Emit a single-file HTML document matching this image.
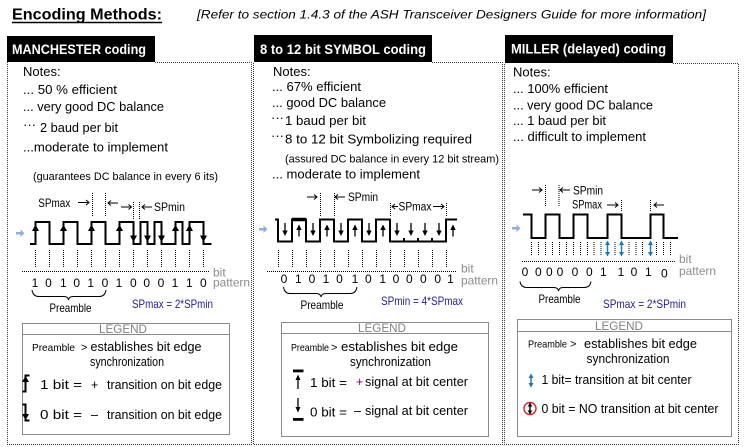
<!DOCTYPE html>
<html><head><meta charset="utf-8"><style>
html,body{margin:0;padding:0;background:#fff;}
svg{display:block;font-family:"Liberation Sans",Arial,sans-serif;}
</style></head><body>
<svg width="749" height="447" viewBox="0 0 749 447" xmlns="http://www.w3.org/2000/svg">
<rect width="749" height="447" fill="#fff"/>

<!-- Header -->
<text x="12" y="19.5" font-size="16" font-weight="bold" textLength="150" lengthAdjust="spacingAndGlyphs">Encoding Methods:</text>
<line x1="12" y1="22.5" x2="162" y2="22.5" stroke="#000" stroke-width="1.6"/>
<text x="197" y="18.5" font-size="11.5" font-style="italic" textLength="509" lengthAdjust="spacingAndGlyphs">[Refer to section  1.4.3  of the ASH Transceiver Designers Guide for more information]</text>

<!-- Title boxes -->
<rect x="7" y="36" width="148" height="26" fill="#000"/>
<text x="12" y="54" fill="#fff" font-size="13.5" font-weight="bold" textLength="134" lengthAdjust="spacingAndGlyphs">MANCHESTER coding</text>
<rect x="254" y="35" width="178" height="27" fill="#000"/>
<text x="260" y="54" fill="#fff" font-size="13.5" font-weight="bold" textLength="166" lengthAdjust="spacingAndGlyphs">8 to 12 bit SYMBOL coding</text>
<rect x="505" y="35" width="168" height="28" fill="#000"/>
<text x="511" y="53.5" fill="#fff" font-size="13.5" font-weight="bold" textLength="155" lengthAdjust="spacingAndGlyphs">MILLER (delayed) coding</text>

<!-- Dotted panel borders -->
<g fill="none" stroke="#333" stroke-width="1" stroke-dasharray="1 1">
<path d="M155 62.5H251.5V444.5H7.5V62"/>
<path d="M432 62.5H502.5V444.5H253.5V62"/>
<path d="M673 63.5H738.5V444.5H504.5V63"/>
</g>

<!-- Notes panel 1 -->
<g font-size="13" fill="#000">
<text x="23" y="76">Notes:</text>
<text x="23" y="94" textLength="94" lengthAdjust="spacingAndGlyphs">... 50 % efficient</text>
<text x="23" y="111" textLength="141" lengthAdjust="spacingAndGlyphs">... very good DC balance</text>
<text x="23" y="129">···</text>
<text x="40" y="132" textLength="78" lengthAdjust="spacingAndGlyphs">2 baud per bit</text>
<text x="23" y="151.5" textLength="145" lengthAdjust="spacingAndGlyphs">...moderate to implement</text>
<text x="33" y="180" font-size="11" textLength="185" lengthAdjust="spacingAndGlyphs">(guarantees DC balance in every 6 its)</text>
</g>

<!-- Notes panel 2 -->
<g font-size="13" fill="#000">
<text x="273" y="76">Notes:</text>
<text x="272" y="91" textLength="89" lengthAdjust="spacingAndGlyphs">... 67% efficient</text>
<text x="272" y="107" textLength="114" lengthAdjust="spacingAndGlyphs">... good DC balance</text>
<text x="271" y="122">···</text>
<text x="285" y="125" textLength="81" lengthAdjust="spacingAndGlyphs">1 baud per bit</text>
<text x="271" y="140">···</text>
<text x="285" y="143.5" textLength="187" lengthAdjust="spacingAndGlyphs">8 to 12 bit Symbolizing required</text>
<text x="285" y="162.5" font-size="11" textLength="214" lengthAdjust="spacingAndGlyphs">(assured DC balance in every 12 bit stream)</text>
<text x="272" y="178.5" textLength="148" lengthAdjust="spacingAndGlyphs">... moderate to implement</text>
</g>

<!-- Notes panel 3 -->
<g font-size="13" fill="#000">
<text x="513" y="76.5">Notes:</text>
<text x="513" y="93" textLength="95" lengthAdjust="spacingAndGlyphs">... 100% efficient</text>
<text x="513" y="109.5" textLength="140" lengthAdjust="spacingAndGlyphs">... very good DC balance</text>
<text x="513" y="125" textLength="93" lengthAdjust="spacingAndGlyphs">... 1 baud per bit</text>
<text x="513" y="141" textLength="133" lengthAdjust="spacingAndGlyphs">... difficult to implement</text>
</g>

<!-- Light blue input arrows -->
<g fill="#8fb0dc">
<rect x="16" y="232" width="5" height="2.5"/><polygon points="20.5,229.5 24.5,233.2 20.5,237"/>
<rect x="259" y="228" width="5" height="2.5"/><polygon points="263.5,225.5 267.5,229.2 263.5,233"/>
<rect x="512" y="227" width="5" height="2.5"/><polygon points="516.5,224.5 520.5,228.2 516.5,232"/>
</g>

<!-- ===== Panel 1 waveform ===== -->
<path d="M30 244H35.5V222H49.5V244H63.5V222H77.5V244H91.5V222H105.5V244H119.5V222H133.5V244H140.5V222H147.5V244H154.5V222H161.5V244H175.5V222H182.5V244H189.5V222H203.5V244H211.5" fill="none" stroke="#000" stroke-width="2"/>
<g fill="#000">
<polygon points="35.5,224.5 32,231 39,231"/>
<polygon points="63.5,224.5 60,231 67,231"/>
<polygon points="91.5,224.5 88,231 95,231"/>
<polygon points="119.5,224.5 116,231 123,231"/>
<polygon points="175.5,224.5 172,231 179,231"/>
<polygon points="189.5,224.5 186,231 193,231"/>
<polygon points="133.5,242 130,235.5 137,235.5"/>
<polygon points="147.5,242 144,235.5 151,235.5"/>
<polygon points="161.5,242 158,235.5 165,235.5"/>
<polygon points="203.5,242 200,235.5 207,235.5"/>
</g>
<g fill="none" stroke="#000" stroke-width="1" stroke-dasharray="1 1">
<path d="M35.5 250V267M49.5 250V267M63.5 250V267M77.5 250V267M91.5 250V267M105.5 250V267M119.5 250V267M133.5 250V267M147.5 250V267M161.5 250V267M175.5 250V267M189.5 250V267M203.5 250V267"/>
<path d="M22 271.5H209"/>
<path d="M92.5 193V217M105.5 193V217M133.5 202V219M139.5 202V219"/>
</g>
<g fill="none" stroke="#000" stroke-width="1">
<path d="M78 202.5H89M86 200L89 202.5L86 205"/>
<path d="M118 203H108M111 200.5L108 203L111 205.5"/>
<path d="M121 207H131.5M128.5 204.5L131.5 207L128.5 209.5"/>
<path d="M152 207H142M145 204.5L142 207L145 209.5"/>
</g>
<text x="38.3" y="207" font-size="11.5" textLength="32" lengthAdjust="spacingAndGlyphs">SPmax</text>
<text x="154" y="211" font-size="11.5" textLength="31" lengthAdjust="spacingAndGlyphs">SPmin</text>
<g font-size="12" text-anchor="middle">
<text x="35" y="287">1</text><text x="48.5" y="287">0</text><text x="63.3" y="287">1</text><text x="76.7" y="287">0</text><text x="90.7" y="287">1</text><text x="105" y="287">0</text><text x="119" y="287">1</text><text x="133.3" y="287">0</text><text x="146.7" y="287">0</text><text x="161" y="287">0</text><text x="175" y="287">1</text><text x="189.3" y="287">1</text><text x="203.3" y="287">0</text>
</g>
<text x="213" y="276.5" font-size="12" fill="#8c8c8c">bit</text>
<text x="213" y="286.5" font-size="12" fill="#8c8c8c" textLength="37" lengthAdjust="spacingAndGlyphs">pattern</text>
<path d="M32 290Q33 296.5 39 296.5H64Q68 296.5 68.5 300Q69 296.5 73 296.5H99Q105 296.5 106 290" fill="none" stroke="#000" stroke-width="1"/>
<text x="70.5" y="312" font-size="12" text-anchor="middle" textLength="42" lengthAdjust="spacingAndGlyphs">Preamble</text>
<text x="132" y="308" font-size="12" fill="#1f1f9a" textLength="81" lengthAdjust="spacingAndGlyphs">SPmax = 2*SPmin</text>

<!-- ===== Panel 2 waveform ===== -->
<path d="M275 219.5H278V241.5H292V219.5H306V241.5H320V219.5H334V241.5H348V219.5H362V241.5H376V219.5H390V241.5H446V219.5H457" fill="none" stroke="#000" stroke-width="2"/>
<line x1="292" y1="219.5" x2="306" y2="219.5" stroke="#000" stroke-width="3.5"/>
<g fill="#000">
<rect x="403" y="238" width="2" height="2.5"/><rect x="417" y="238" width="2" height="2.5"/><rect x="431" y="238" width="2" height="2.5"/>
</g>
<g stroke="#000" stroke-width="1.3">
<line x1="285" y1="223" x2="285" y2="233"/><line x1="299" y1="226" x2="299" y2="236.5"/><line x1="313" y1="223" x2="313" y2="233"/><line x1="327" y1="226" x2="327" y2="236.5"/><line x1="341" y1="223" x2="341" y2="233"/><line x1="355" y1="226" x2="355" y2="236.5"/><line x1="369" y1="223" x2="369" y2="233"/><line x1="383" y1="226" x2="383" y2="236.5"/><line x1="397" y1="223" x2="397" y2="233"/><line x1="411" y1="223" x2="411" y2="233"/><line x1="425" y1="223" x2="425" y2="233"/><line x1="439" y1="223" x2="439" y2="233"/><line x1="453" y1="226" x2="453" y2="236.5"/>
</g>
<g fill="#000">
<polygon points="285,236 282.3,230.5 287.7,230.5"/>
<polygon points="313,236 310.3,230.5 315.7,230.5"/>
<polygon points="341,236 338.3,230.5 343.7,230.5"/>
<polygon points="369,236 366.3,230.5 371.7,230.5"/>
<polygon points="397,236 394.3,230.5 399.7,230.5"/>
<polygon points="411,236 408.3,230.5 413.7,230.5"/>
<polygon points="425,236 422.3,230.5 427.7,230.5"/>
<polygon points="439,236 436.3,230.5 441.7,230.5"/>
<polygon points="299,224.5 296.3,230 301.7,230"/>
<polygon points="327,224.5 324.3,230 329.7,230"/>
<polygon points="355,224.5 352.3,230 357.7,230"/>
<polygon points="383,224.5 380.3,230 385.7,230"/>
<polygon points="453,224.5 450.3,230 455.7,230"/>
</g>
<g fill="none" stroke="#000" stroke-width="1" stroke-dasharray="1 1">
<path d="M278.5 250V268M292.5 250V268M306.5 250V268M320.5 250V268M334.5 250V268M348.5 250V268M362.5 250V268M376.5 250V268M390.5 250V268M404.5 250V268M418.5 250V268M432.5 250V268M446.5 250V268"/>
<path d="M267 271.5H457"/>
<path d="M320.5 193V216M334.5 193V216M390.5 203V217M446.5 203V217"/>
</g>
<g fill="none" stroke="#000" stroke-width="1">
<path d="M307 197H317M314 194.5L317 197L314 199.5"/>
<path d="M345 197H335M338 194.5L335 197L338 199.5"/>
<path d="M398 206.5H392M395 204L392 206.5L395 209"/>
<path d="M433 206.5H444M441 204L444 206.5L441 209"/>
</g>
<text x="348" y="201" font-size="11.5" textLength="30" lengthAdjust="spacingAndGlyphs">SPmin</text>
<text x="398.5" y="210.5" font-size="11.5" textLength="33" lengthAdjust="spacingAndGlyphs">SPmax</text>
<g font-size="12" text-anchor="middle">
<text x="284" y="283">0</text><text x="298.3" y="283">1</text><text x="312" y="283">0</text><text x="326" y="283">1</text><text x="339.5" y="283">0</text><text x="355" y="283">1</text><text x="368.3" y="283">0</text><text x="382.7" y="283">1</text><text x="396" y="283">0</text><text x="409.3" y="283">0</text><text x="423.3" y="283">0</text><text x="437.7" y="283">0</text><text x="450.5" y="283">1</text>
</g>
<text x="461" y="272.5" font-size="12" fill="#8c8c8c">bit</text>
<text x="461" y="284.5" font-size="12" fill="#8c8c8c" textLength="37" lengthAdjust="spacingAndGlyphs">pattern</text>
<path d="M283.5 287Q284.5 293.5 290 293.5H316Q320.5 293.5 321 297Q321.5 293.5 326 293.5H350Q356 293.5 357 287" fill="none" stroke="#000" stroke-width="1"/>
<text x="322" y="309" font-size="12" text-anchor="middle" textLength="43" lengthAdjust="spacingAndGlyphs">Preamble</text>
<text x="381" y="305" font-size="12" fill="#1f1f9a" textLength="82" lengthAdjust="spacingAndGlyphs">SPmin = 4*SPmax</text>

<!-- ===== Panel 3 waveform ===== -->
<path d="M523 214.5H531.5V238H545.5V214.5H559.5V238H573.5V214.5H587.5V238H607.5V214.5H621.5V238H650.5V214.5H663.5V238H678" fill="none" stroke="#000" stroke-width="2"/>
<g fill="none" stroke="#000" stroke-width="1" stroke-dasharray="1 1">
<path d="M531.5 242V255M538.5 242V255M545.5 242V255M552.5 242V255M559.5 242V255M566.5 242V255M573.5 242V255M580.5 242V255M587.5 242V255M594 242V255M601 242V255M615 242V255M629 242V255M636 242V255M642.5 242V255M656.5 242V255M663.5 242V255M670.5 242V255"/>
<path d="M522 261.5H675"/>
<path d="M545.5 185V207M559 185V207M621.5 200V212M650.5 200V212"/>
</g>
<g stroke="#1a78b8" stroke-width="1.4">
<line x1="607.5" y1="243" x2="607.5" y2="254"/><line x1="621.5" y1="243" x2="621.5" y2="254"/><line x1="650.5" y1="243" x2="650.5" y2="254"/>
</g>
<g fill="#1a78b8">
<polygon points="607.5,240.5 605,245 610,245"/><polygon points="607.5,256.5 605,252 610,252"/>
<polygon points="621.5,240.5 619,245 624,245"/><polygon points="621.5,256.5 619,252 624,252"/>
<polygon points="650.5,240.5 648,245 653,245"/><polygon points="650.5,256.5 648,252 653,252"/>
</g>
<g fill="none" stroke="#000" stroke-width="1">
<path d="M532 190H542M539 187.5L542 190L539 192.5"/>
<path d="M570 190H560M563 187.5L560 190L563 192.5"/>
<path d="M607 205H618M615 202.5L618 205L615 207.5"/>
<path d="M664 205H654M657 202.5L654 205L657 207.5"/>
</g>
<text x="573" y="194.5" font-size="11.5" textLength="30" lengthAdjust="spacingAndGlyphs">SPmin</text>
<text x="572" y="208.5" font-size="11.5" textLength="30" lengthAdjust="spacingAndGlyphs">SPmax</text>
<g font-size="12" text-anchor="middle">
<text x="525" y="276">0</text><text x="538.3" y="276">0</text><text x="549.3" y="276">0</text><text x="560" y="276">0</text><text x="575" y="276">0</text><text x="589.3" y="276">0</text><text x="603.3" y="276">1</text><text x="621" y="276">1</text><text x="634" y="276">0</text><text x="648.3" y="276">1</text><text x="664.3" y="277.5">0</text>
</g>
<text x="679" y="263" font-size="12" fill="#8c8c8c">bit</text>
<text x="679" y="275" font-size="12" fill="#8c8c8c" textLength="37" lengthAdjust="spacingAndGlyphs">pattern</text>
<path d="M520 281.5Q521 287.5 527 287.5H554Q558 287.5 558.5 291Q559 287.5 563 287.5H584Q590 287.5 591 281.5" fill="none" stroke="#000" stroke-width="1"/>
<text x="559.5" y="303" font-size="12" text-anchor="middle" textLength="42" lengthAdjust="spacingAndGlyphs">Preamble</text>
<text x="603" y="308" font-size="12" fill="#1f1f9a" textLength="83" lengthAdjust="spacingAndGlyphs">SPmax = 2*SPmin</text>

<!-- ===== Legend 1 ===== -->
<rect x="22.5" y="323.5" width="207" height="111" fill="#fff" stroke="#8a8a8a" stroke-width="1"/>
<line x1="22.5" y1="334.5" x2="229.5" y2="334.5" stroke="#8a8a8a"/>
<text x="123" y="333" font-size="12" fill="#808080" text-anchor="middle" textLength="48" lengthAdjust="spacingAndGlyphs">LEGEND</text>
<text x="32" y="351" font-size="10.5" textLength="43" lengthAdjust="spacingAndGlyphs">Preamble</text>
<text x="81" y="351" font-size="11">&gt;</text>
<text x="90.5" y="351" font-size="12.5" textLength="111" lengthAdjust="spacingAndGlyphs">establishes bit edge</text>
<text x="90" y="366" font-size="12.5" textLength="74" lengthAdjust="spacingAndGlyphs">synchronization</text>
<path d="M22.5 391.5H25.5V375.5H29.5" fill="none" stroke="#000" stroke-width="2"/>
<polygon points="25.5,376 22,382 29,382" fill="#000"/>
<path d="M22.5 404.5H25.5V420.5H29.5" fill="none" stroke="#000" stroke-width="2"/>
<polygon points="25.5,420 22,414 29,414" fill="#000"/>
<text x="40" y="389" font-size="12.5" textLength="42" lengthAdjust="spacingAndGlyphs">1 bit =</text>
<text x="91" y="389" font-size="12.5">+</text>
<text x="107" y="389" font-size="12.5" textLength="115" lengthAdjust="spacingAndGlyphs">transition on bit edge</text>
<text x="40" y="419" font-size="12.5" textLength="42" lengthAdjust="spacingAndGlyphs">0 bit =</text>
<text x="91" y="419" font-size="12.5">–</text>
<text x="107" y="419" font-size="12.5" textLength="115" lengthAdjust="spacingAndGlyphs">transition on bit edge</text>

<!-- ===== Legend 2 ===== -->
<rect x="281.5" y="322.5" width="207" height="114" fill="#fff" stroke="#8a8a8a" stroke-width="1"/>
<line x1="281.5" y1="333.5" x2="488.5" y2="333.5" stroke="#8a8a8a"/>
<text x="382" y="332" font-size="12" fill="#808080" text-anchor="middle" textLength="48" lengthAdjust="spacingAndGlyphs">LEGEND</text>
<text x="291" y="351" font-size="10.5" textLength="38" lengthAdjust="spacingAndGlyphs">Preamble</text>
<text x="331" y="351" font-size="11">&gt;</text>
<text x="341" y="351" font-size="12.5" textLength="117" lengthAdjust="spacingAndGlyphs">establishes bit edge</text>
<text x="350" y="366" font-size="12.5" textLength="81" lengthAdjust="spacingAndGlyphs">synchronization</text>
<rect x="293" y="369.5" width="10.5" height="2.8" fill="#000"/>
<line x1="298" y1="378" x2="298" y2="389" stroke="#000" stroke-width="1.3"/>
<polygon points="298,374.5 295.5,380 300.5,380" fill="#000"/>
<line x1="298" y1="398" x2="298" y2="408" stroke="#000" stroke-width="1.3"/>
<polygon points="298,412.5 295.5,407 300.5,407" fill="#000"/>
<rect x="293" y="418" width="10.5" height="2.8" fill="#000"/>
<text x="310" y="387" font-size="12.5" textLength="37" lengthAdjust="spacingAndGlyphs">1 bit =</text>
<text x="356" y="386" font-size="12.5" fill="#800080">+</text>
<text x="365" y="386" font-size="12.5" textLength="103" lengthAdjust="spacingAndGlyphs">signal at bit center</text>
<text x="310" y="416.5" font-size="12.5" textLength="37" lengthAdjust="spacingAndGlyphs">0 bit =</text>
<text x="354" y="415" font-size="12.5">–</text>
<text x="365" y="415" font-size="12.5" textLength="103" lengthAdjust="spacingAndGlyphs">signal at bit center</text>

<!-- ===== Legend 3 ===== -->
<rect x="517.5" y="319.5" width="214" height="117" fill="#fff" stroke="#8a8a8a" stroke-width="1"/>
<line x1="517.5" y1="331.5" x2="731.5" y2="331.5" stroke="#8a8a8a"/>
<text x="619" y="330" font-size="12" fill="#808080" text-anchor="middle" textLength="48" lengthAdjust="spacingAndGlyphs">LEGEND</text>
<text x="528" y="347.5" font-size="10.5" textLength="39" lengthAdjust="spacingAndGlyphs">Preamble</text>
<text x="570" y="347.5" font-size="11">&gt;</text>
<text x="584" y="348" font-size="12.5" textLength="113" lengthAdjust="spacingAndGlyphs">establishes bit edge</text>
<text x="586.5" y="363" font-size="12.5" textLength="83" lengthAdjust="spacingAndGlyphs">synchronization</text>
<line x1="531" y1="376" x2="531" y2="385" stroke="#1a78b8" stroke-width="1.4"/>
<polygon points="531,373.5 528.5,378 533.5,378" fill="#1a78b8"/>
<polygon points="531,387.5 528.5,383 533.5,383" fill="#1a78b8"/>
<text x="541.5" y="384" font-size="12.5" textLength="150" lengthAdjust="spacingAndGlyphs">1 bit= transition at bit center</text>
<circle cx="530" cy="408.5" r="6" fill="none" stroke="#d22" stroke-width="1.4"/>
<line x1="530" y1="405" x2="530" y2="412" stroke="#000" stroke-width="1.4"/>
<polygon points="530,402.5 527.7,406.5 532.3,406.5" fill="#000"/>
<polygon points="530,414.5 527.7,410.5 532.3,410.5" fill="#000"/>
<text x="541.5" y="413" font-size="12.5" textLength="177" lengthAdjust="spacingAndGlyphs">0 bit = NO transition at bit center</text>

</svg>
</body></html>
